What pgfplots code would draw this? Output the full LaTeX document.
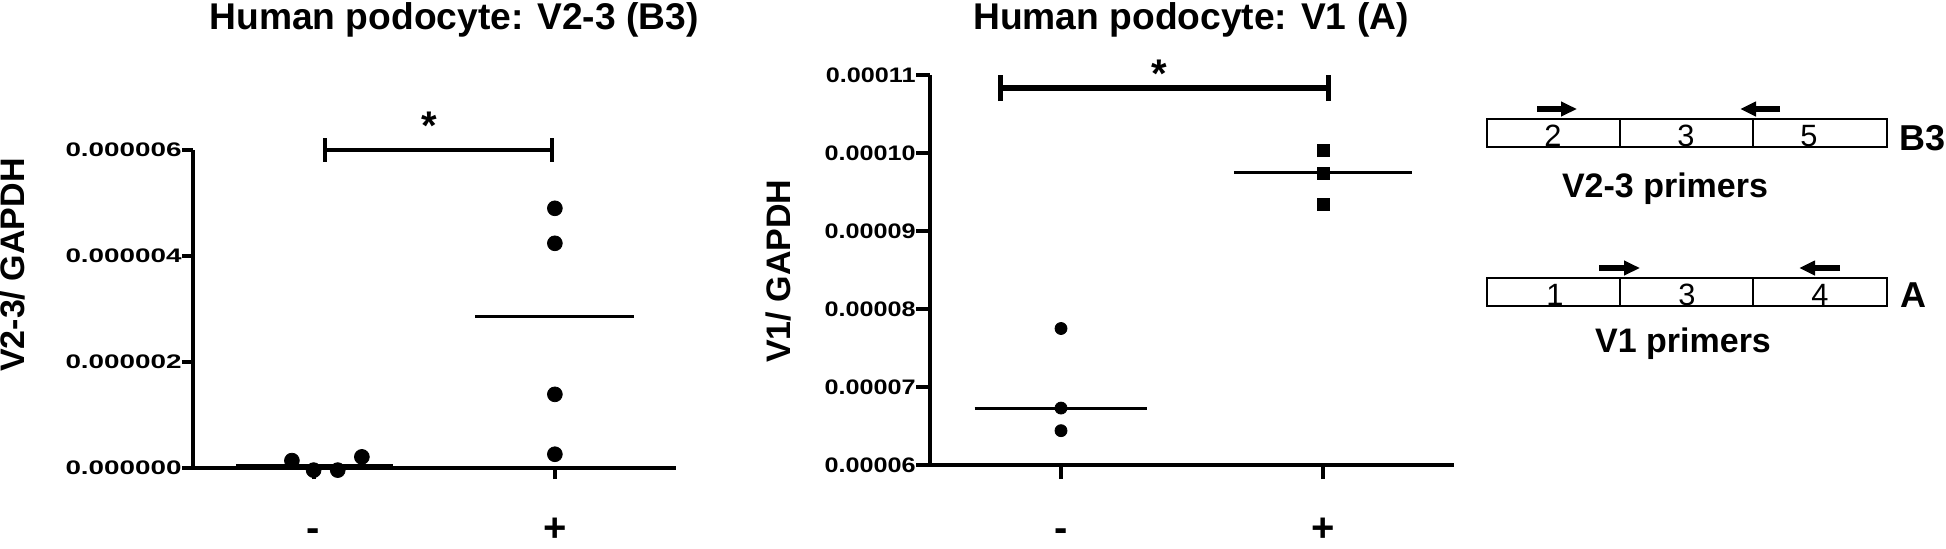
\documentclass[border=0pt]{standalone}
\usepackage{fontspec}
\setmainfont{Liberation Sans}
\usepackage{graphicx}
\usepackage{pgfplots}
\pgfplotsset{compat=1.18}
\usetikzlibrary{arrows.meta}
\newcommand\fs[1]{\fontsize{#1}{#1}\selectfont}
\newcommand\sxa[1]{\scalebox{1.42}[1]{#1}}
\newcommand\sxb[1]{\scalebox{1.2}[1]{#1}}
\begin{document}
\begin{tikzpicture}
\useasboundingbox (0,0) rectangle (973pt,274pt);

% ---------------- left panel ----------------
\begin{axis}[
  at={(96.5pt,40pt)}, anchor=south west,
  scale only axis, width=241.25pt, height=159pt,
  xmin=-0.5, xmax=1.5, ymin=0, ymax=6e-6,
  axis x line=bottom, axis y line=left,
  axis line style={-, line width=2.3pt},
  tick align=outside, major tick length=5.5pt,
  tick style={line width=2pt, black},
  xtick={0,1}, xticklabels={-,+},
  xticklabel style={font=\fs{20}\bfseries, anchor=base, inner sep=0pt, yshift=-31pt},
  ytick={0,2e-6,4e-6,6e-6},
  yticklabels={\sxa{0.000000},\sxa{0.000002},\sxa{0.000004},\sxa{0.000006}},
  scaled y ticks=false,
  yticklabel style={font=\fs{9.8}\bfseries, anchor=east, inner sep=0pt},
  ylabel={V2-3/ GAPDH},
  ylabel style={at={(axis description cs:-0.374,0.638)}, anchor=center, font=\fs{17}\bfseries},
  clip=false,
]
\node[anchor=base, font=\fs{18.6}\bfseries, inner sep=0pt] at (axis description cs:0.541,1.378) {Human podocyte: V2-3 (B3)};
\addplot[black, line width=2.2pt] coordinates {(0.048,6e-6) (0.987,6e-6)};
\addplot[black, line width=1.8pt] coordinates {(0.048,5.78e-6) (0.048,6.22e-6)};
\addplot[black, line width=1.8pt] coordinates {(0.987,5.78e-6) (0.987,6.22e-6)};
\node[font=\fs{20}\bfseries, anchor=base] at (axis cs:0.48,6.19e-6) {*};
\addplot[black, line width=1.5pt] coordinates {(-0.32,0.04e-6) (0.33,0.04e-6)};
\addplot[black, line width=1.5pt] coordinates {(0.67,2.85e-6) (1.33,2.85e-6)};
\addplot[only marks, mark=*, mark size=3.7pt, black] coordinates {
  (-0.09,0.14e-6) (0.0,-0.04e-6) (0.10,-0.04e-6) (0.20,0.21e-6)
  (1,4.90e-6) (1,4.24e-6) (1,1.39e-6) (1,0.26e-6)};
\end{axis}

% ---------------- middle panel ----------------
\begin{axis}[
  at={(465pt,41.5pt)}, anchor=south west,
  scale only axis, width=262pt, height=195pt,
  xmin=-0.5, xmax=1.5, ymin=6e-5, ymax=11e-5,
  axis x line=bottom, axis y line=left,
  axis line style={-, line width=2.2pt},
  tick align=outside, major tick length=7pt,
  tick style={line width=2pt, black},
  xtick={0,1}, xticklabels={-,+},
  xticklabel style={font=\fs{20}\bfseries, anchor=base, inner sep=0pt, yshift=-31.3pt},
  ytick={6e-5,7e-5,8e-5,9e-5,10e-5,11e-5},
  yticklabels={\sxb{0.00006},\sxb{0.00007},\sxb{0.00008},\sxb{0.00009},\sxb{0.00010},\sxb{0.00011}},
  scaled y ticks=false,
  yticklabel style={font=\fs{10.5}\bfseries, anchor=east, inner sep=0pt},
  ylabel={V1/ GAPDH},
  ylabel style={at={(axis description cs:-0.290,0.497)}, anchor=center, font=\fs{17}\bfseries},
  clip=false,
]
\node[anchor=base, font=\fs{18.6}\bfseries, inner sep=0pt] at (axis description cs:0.498,1.116) {Human podocyte: V1 (A)};
\addplot[black, line width=3pt] coordinates {(-0.23,1.0833e-4) (1.02,1.0833e-4)};
\addplot[black, line width=2.5pt] coordinates {(-0.23,1.0666e-4) (-0.23,1.1e-4)};
\addplot[black, line width=2.5pt] coordinates {(1.02,1.0666e-4) (1.02,1.1e-4)};
\node[font=\fs{20}\bfseries, anchor=base] at (axis cs:0.375,1.0841e-4) {*};
\addplot[black, line width=1.5pt] coordinates {(-0.33,6.72e-5) (0.33,6.72e-5)};
\addplot[black, line width=1.5pt] coordinates {(0.66,9.75e-5) (1.34,9.75e-5)};
\addplot[only marks, mark=*, mark size=3pt, black] coordinates {
  (0,7.75e-5) (0,6.73e-5) (0,6.44e-5)};
\addplot[only marks, mark=square*, mark size=3pt, black] coordinates {
  (1,10.03e-5) (1,9.74e-5) (1,9.34e-5)};
\end{axis}

% ---------------- primer diagram ----------------
\begin{axis}[
  at={(0pt,0pt)}, anchor=south west,
  scale only axis, width=973pt, height=274pt,
  xmin=0, xmax=1946, ymin=0, ymax=548, y dir=reverse,
  hide axis, clip=false,
]
\draw[line width=1pt] (axis cs:1487,119) rectangle (axis cs:1887,147);
\draw[line width=1pt] (axis cs:1620,119) -- (axis cs:1620,147);
\draw[line width=1pt] (axis cs:1753,119) -- (axis cs:1753,147);
\node[anchor=base, font=\fs{15.4}, inner sep=0pt] at (axis cs:1553,146) {2};
\node[anchor=base, font=\fs{15.4}, inner sep=0pt] at (axis cs:1686,146) {3};
\node[anchor=base, font=\fs{15.4}, inner sep=0pt] at (axis cs:1809,146) {5};
\draw[line width=2.8pt, -{Triangle[length=8pt,width=7pt]}] (axis cs:1537,109) -- (axis cs:1577,109);
\draw[line width=2.8pt, -{Triangle[length=8pt,width=7pt]}] (axis cs:1780,109) -- (axis cs:1740,109);
\node[anchor=base west, font=\fs{18}\bfseries, inner sep=0pt] at (axis cs:1899,150) {B3};
\node[anchor=base, font=\fs{17}\bfseries, inner sep=0pt] at (axis cs:1665,197) {V2-3 primers};

\draw[line width=1pt] (axis cs:1487,278) rectangle (axis cs:1887,306);
\draw[line width=1pt] (axis cs:1620,278) -- (axis cs:1620,306);
\draw[line width=1pt] (axis cs:1753,278) -- (axis cs:1753,306);
\node[anchor=base, font=\fs{15.4}, inner sep=0pt] at (axis cs:1555,305) {1};
\node[anchor=base, font=\fs{15.4}, inner sep=0pt] at (axis cs:1687,305) {3};
\node[anchor=base, font=\fs{15.4}, inner sep=0pt] at (axis cs:1820,305) {4};
\draw[line width=2.8pt, -{Triangle[length=8pt,width=7pt]}] (axis cs:1599,268) -- (axis cs:1640,268);
\draw[line width=2.8pt, -{Triangle[length=8pt,width=7pt]}] (axis cs:1840,268) -- (axis cs:1799,268);
\node[anchor=base west, font=\fs{18}\bfseries, inner sep=0pt] at (axis cs:1900,307) {A};
\node[anchor=base, font=\fs{17}\bfseries, inner sep=0pt] at (axis cs:1683,352) {V1 primers};
\end{axis}
\end{tikzpicture}
\end{document}
